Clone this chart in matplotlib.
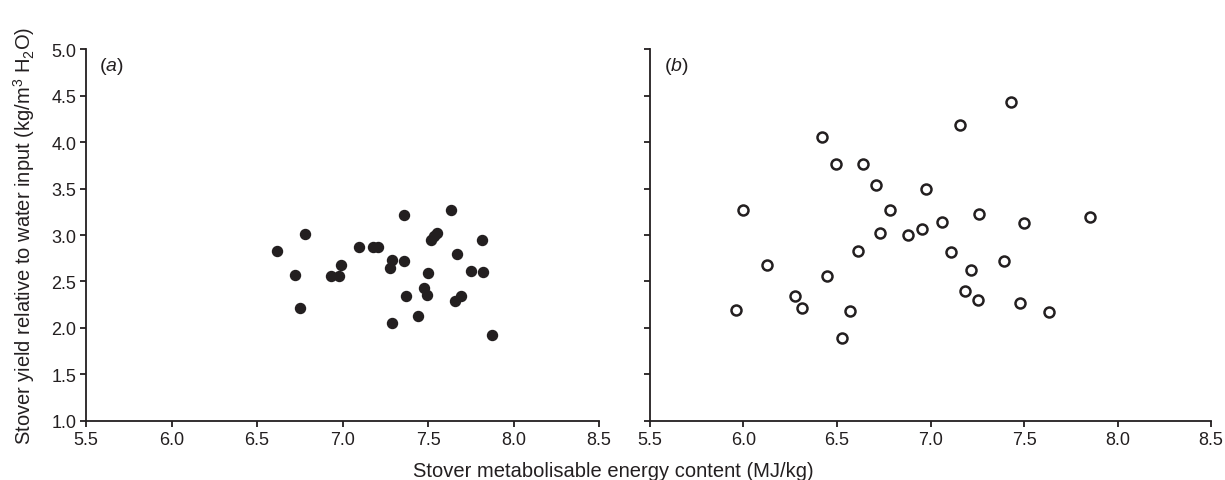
import matplotlib.pyplot as plt

plt.rcParams['font.family'] = ['Liberation Sans', 'DejaVu Sans']
plt.rcParams['mathtext.fontset'] = 'custom'
plt.rcParams['mathtext.rm'] = 'Liberation Sans'
plt.rcParams['mathtext.it'] = 'Liberation Sans:italic'

ink = '#231f20'

# Panel (a): stover ME content vs yield per water input
me_a = [6.615, 6.78, 6.724, 6.752, 6.932, 6.98, 6.992, 7.098, 7.177, 7.209,
        7.29, 7.28, 7.287, 7.361, 7.359, 7.373, 7.44, 7.475, 7.493, 7.498,
        7.516, 7.535, 7.555, 7.636, 7.671, 7.66, 7.694, 7.754, 7.814, 7.821, 7.874]
yld_a = [2.83, 3.01, 2.57, 2.21, 2.56, 2.56, 2.68, 2.87, 2.87, 2.87,
         2.73, 2.65, 2.05, 3.21, 2.72, 2.34, 2.13, 2.43, 2.35, 2.59,
         2.95, 2.99, 3.02, 3.27, 2.80, 2.29, 2.34, 2.61, 2.95, 2.60, 1.93]

# Panel (b)
me_b = [6.42, 6.493, 6.64, 6.709, 6.978, 7.157, 7.43, 6.0, 6.783, 7.26,
        7.059, 7.501, 7.853, 6.728, 6.877, 6.954, 6.613, 7.112, 7.392, 7.217,
        6.126, 6.444, 6.275, 6.314, 5.961, 6.57, 6.525, 7.185, 7.255, 7.479, 7.635]
yld_b = [4.05, 3.76, 3.76, 3.54, 3.49, 4.18, 4.43, 3.27, 3.27, 3.23,
         3.14, 3.13, 3.19, 3.02, 3.00, 3.06, 2.83, 2.82, 2.72, 2.62,
         2.68, 2.56, 2.34, 2.22, 2.19, 2.18, 1.89, 2.40, 2.30, 2.27, 2.17]

xticks = [5.5, 6.0, 6.5, 7.0, 7.5, 8.0, 8.5]
yticks = [1.0, 1.5, 2.0, 2.5, 3.0, 3.5, 4.0, 4.5, 5.0]

fig = plt.figure(figsize=(12.25, 4.81), dpi=100)
ax_a = fig.add_axes([0.0702, 0.1227, 0.4188, 0.7733])
ax_b = fig.add_axes([0.5306, 0.1227, 0.4580, 0.7733])

ax_a.plot(me_a, yld_a, 'o', color=ink, markersize=7.2, linestyle='none')
ax_b.plot(me_b, yld_b, 'o', markerfacecolor='white', markeredgecolor=ink,
          markersize=7.2, markeredgewidth=1.8, linestyle='none')

for ax, tag in [(ax_a, 'a'), (ax_b, 'b')]:
    ax.set_xlim(5.5, 8.5)
    ax.set_ylim(1.0, 5.0)
    ax.set_xticks(xticks)
    ax.set_xticklabels(['%.1f' % v for v in xticks])
    ax.set_yticks(yticks)
    ax.spines['top'].set_visible(False)
    ax.spines['right'].set_visible(False)
    for s in ['left', 'bottom']:
        ax.spines[s].set_color(ink)
        ax.spines[s].set_linewidth(1.3)
    ax.tick_params(direction='out', length=4, width=1.3, color=ink,
                   labelcolor=ink, labelsize=13, pad=3)
    ax.text(0.025, 0.985, '($\\mathit{%s}$)' % tag, transform=ax.transAxes,
            ha='left', va='top', fontsize=14, color=ink)

ax_a.set_yticklabels(['%.1f' % v for v in yticks])
ax_b.set_yticklabels([])

ax_a.set_ylabel('Stover yield relative to water input (kg/m$^3$ H$_2$O)',
                fontsize=14.5, color=ink, labelpad=10)
fig.text(0.501, 0.008, 'Stover metabolisable energy content (MJ/kg)',
         ha='center', va='baseline', fontsize=14.5, color=ink)

fig.savefig('out.png', dpi=100)
